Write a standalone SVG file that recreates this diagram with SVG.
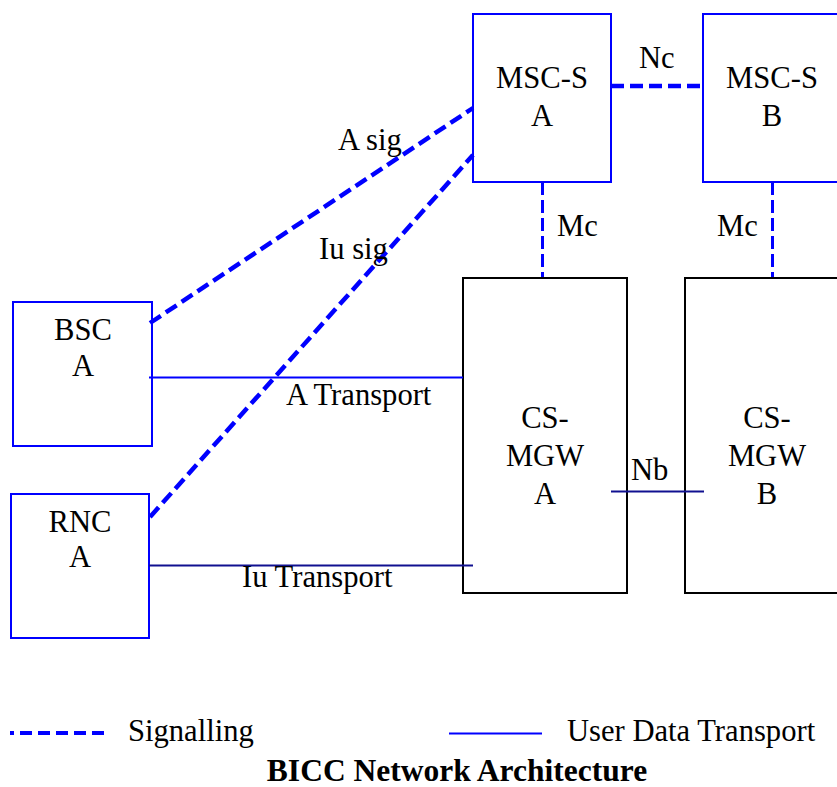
<svg xmlns="http://www.w3.org/2000/svg" width="837" height="787" viewBox="0 0 837 787">
<style>
.t{font-family:"Liberation Serif","Times New Roman",serif;font-size:30.6px;fill:#000}
.m{text-anchor:middle}
.bb{fill:#fff;stroke:#0000ff;stroke-width:2}
.kb{fill:#fff;stroke:#000;stroke-width:2}
.sig{fill:none;stroke:#0000ff;stroke-width:4.5;stroke-dasharray:13 6}
.sig2{fill:none;stroke:#0000ff;stroke-width:3;stroke-dasharray:13 5}
.ud{fill:none;stroke:#0000ff;stroke-width:2}
.ud2{fill:none;stroke:#101090;stroke-width:2}
</style>
<rect width="837" height="787" fill="#fff"/>
<g id="msc-s-a"><rect class="bb" x="473" y="14" width="138" height="168"/><text class="t m" x="542" y="88">MSC-S</text><text class="t m" x="542" y="126">A</text></g>
<g id="msc-s-b"><rect class="bb" x="703" y="14" width="140" height="168"/><text class="t m" x="772" y="88">MSC-S</text><text class="t m" x="772" y="126">B</text></g>
<g id="cs-mgw-a"><rect class="kb" x="463" y="278" width="164" height="315"/><text class="t m" x="545" y="428">CS-</text><text class="t m" x="545" y="466">MGW</text><text class="t m" x="545" y="504">A</text></g>
<g id="cs-mgw-b"><rect class="kb" x="685" y="278" width="160" height="315"/><text class="t m" x="767" y="428">CS-</text><text class="t m" x="767" y="466">MGW</text><text class="t m" x="767" y="504">B</text></g>
<g id="bsc-a"><rect class="bb" x="13" y="302" width="139" height="144"/><text class="t m" x="83" y="340">BSC</text><text class="t m" x="83" y="376">A</text></g>
<g id="rnc-a"><rect class="bb" x="11" y="494" width="138" height="144"/><text class="t m" x="80" y="532">RNC</text><text class="t m" x="80" y="567">A</text></g>
<g id="connectors">
<line class="sig" x1="611" y1="86" x2="703" y2="86"/>
<line class="sig2" x1="542.5" y1="182" x2="542.5" y2="277"/>
<line class="sig2" x1="772.5" y1="182" x2="772.5" y2="277"/>
<line class="sig" x1="150" y1="323" x2="473" y2="108"/>
<line class="sig" x1="150" y1="517" x2="473" y2="155"/>
<line class="ud" x1="149" y1="377.5" x2="463" y2="377.5"/>
<line class="ud2" x1="149" y1="565.5" x2="473" y2="565.5"/>
<line class="ud2" x1="611" y1="491.5" x2="704" y2="491.5"/>
<text class="t" x="639" y="68">Nc</text>
<text class="t" x="557" y="236">Mc</text>
<text class="t" x="717" y="236">Mc</text>
<text class="t" x="338" y="150">A sig</text>
<text class="t" x="319" y="259">Iu sig</text>
<text class="t" x="286" y="405">A Transport</text>
<text class="t" x="242" y="587">Iu Transport</text>
<text class="t" x="631" y="480">Nb</text>
</g>
<g id="legend">
<line class="sig" x1="10" y1="733" x2="104" y2="733" style="stroke-width:4;stroke-dasharray:4 6 12 6 12 6 12 6 12 6 12 6"/>
<text class="t" x="128" y="741">Signalling</text>
<line class="ud" x1="449" y1="733.5" x2="542" y2="733.5"/>
<text class="t" x="567" y="741">User Data Transport</text>
<text class="t m" x="457" y="781" style="font-weight:bold;font-size:31.5px">BICC Network Architecture</text>
</g>
</svg>
